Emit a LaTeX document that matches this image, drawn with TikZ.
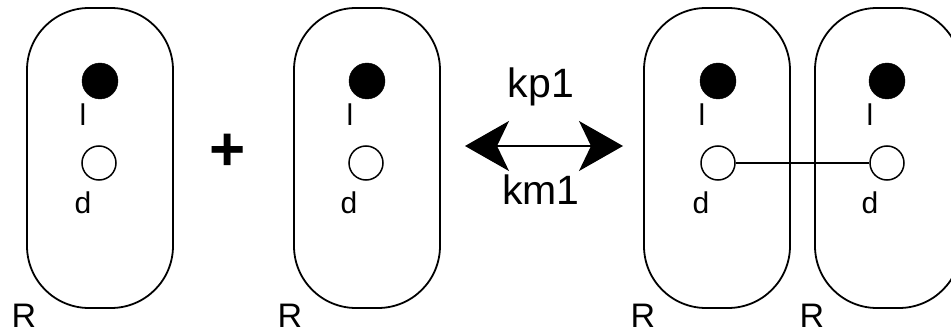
\documentclass[tikz,border=0pt]{standalone}
\usepackage{fontspec}
\setmainfont{Liberation Sans}
\usetikzlibrary{arrows.meta}
\tikzset{
  capsule/.style={draw, line width=1.8pt, rounded corners=62pt, minimum width=146pt, minimum height=300pt, inner sep=0pt},
  fdot/.style={circle, fill=black, draw=black, minimum size=36pt, inner sep=0pt},
  odot/.style={circle, fill=white, draw=black, line width=1.5pt, minimum size=34pt, inner sep=0pt},
  lbl/.style={font=\fontsize{30}{32}\selectfont, inner sep=0pt},
  rlbl/.style={font=\fontsize{34}{36}\selectfont, inner sep=0pt, anchor=base},
  klbl/.style={font=\fontsize{41}{43}\selectfont, inner sep=0pt},
  bond/.style={line width=1.5pt},
  rxn/.style={line width=1.4pt, {Stealth[length=44pt,width=50pt,inset=12pt]}-{Stealth[length=44pt,width=50pt,inset=12pt]}}
}
\begin{document}
\begin{tikzpicture}[x=1pt,y=-1pt]
\useasboundingbox (0,0) rectangle (951,334);
\clip (0,0) rectangle (951,334);
% capsule 1
\node[capsule] (c1) at (100,158) {};
\node[fdot] (f1) at (100,81) {};
\node[lbl] (l1) at (83,115) {l};
\node[odot] (o1) at (99,163) {};
\node[lbl] (d1) at (83,203) {d};
\node[rlbl] (r1) at (24,327) {R};
% plus
\node[font=\fontsize{62}{64}\selectfont\bfseries, inner sep=0pt] (plus) at (228,152) {+};
% capsule 2
\node[capsule] (c2) at (367,158) {};
\node[fdot] (f2) at (367,81) {};
\node[lbl] (l2) at (350,115) {l};
\node[odot] (o2) at (366,163) {};
\node[lbl] (d2) at (349,203) {d};
\node[rlbl] (r2) at (290,327) {R};
% reaction arrow
\coordinate (a1) at (465,146);
\coordinate (a2) at (623,146);
\draw[rxn] (a1) -- (a2);
\node[klbl] (kp) at (541,87) {kp1};
\node[klbl] (km) at (541,190) {km1};
% capsule 3
\node[capsule] (c3) at (717,158) {};
\node[fdot] (f3) at (718,81) {};
\node[lbl] (l3) at (702,115) {l};
\node[odot] (o3) at (718,163) {};
\node[lbl] (d3) at (701,203) {d};
\node[rlbl] (r3) at (643,327) {R};
% capsule 4
\node[capsule] (c4) at (888,158) {};
\node[fdot] (f4) at (887,81) {};
\node[lbl] (l4) at (870,115) {l};
\node[odot] (o4) at (887,163) {};
\node[lbl] (d4) at (870,203) {d};
\node[rlbl] (r4) at (812,327) {R};
% bond
\draw[bond] (o3) -- (o4);
\end{tikzpicture}
\end{document}
